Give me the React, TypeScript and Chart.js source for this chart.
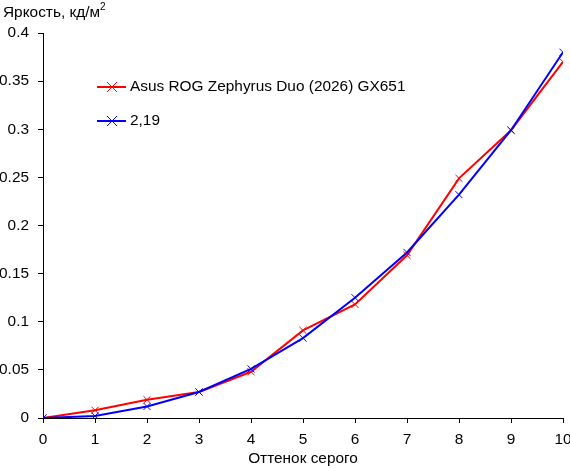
import React, { useEffect, useRef } from "react";
import { Chart, registerables } from "chart.js";

Chart.register(...registerables);

const grayLevels = [0, 1, 2, 3, 4, 5, 6, 7, 8, 9, 10];
const measured = [0, 0.008, 0.019, 0.027, 0.048, 0.091, 0.118, 0.169, 0.249, 0.299, 0.37];
const gamma219 = [0, 0.002, 0.012, 0.027, 0.051, 0.083, 0.125, 0.172, 0.232, 0.299, 0.38];
const yTicks = [0, 0.05, 0.1, 0.15, 0.2, 0.25, 0.3, 0.35, 0.4];

const seriesNames = ["Asus ROG Zephyrus Duo (2026) GX651", "2,19"];
const seriesColors = ["#ff0000", "#0000ff"];

const FONT = "'Liberation Sans', Arial, sans-serif";
const FS = 15.4;

const legendPlugin = {
  id: "innerLegend",
  afterDatasetsDraw(chart: any) {
    const ctx = chart.ctx;
    const area = chart.chartArea;
    ctx.save();
    ctx.font = `${FS}px ${FONT}`;
    ctx.textBaseline = "middle";
    seriesNames.forEach((name, i) => {
      const y = area.top + 54 + i * 34;
      const x0 = area.left + 54;
      ctx.strokeStyle = seriesColors[i];
      ctx.lineWidth = 2;
      ctx.beginPath();
      ctx.moveTo(x0, y);
      ctx.lineTo(x0 + 29, y);
      ctx.stroke();
      ctx.lineWidth = 1;
      ctx.beginPath();
      ctx.moveTo(x0 + 10, y - 5);
      ctx.lineTo(x0 + 20, y + 5);
      ctx.moveTo(x0 + 20, y - 5);
      ctx.lineTo(x0 + 10, y + 5);
      ctx.stroke();
      ctx.fillStyle = "#000";
      ctx.fillText(name, x0 + 33, y);
    });
    ctx.restore();
  },
};

const titlePlugin = {
  id: "yTitle",
  afterDraw(chart: any) {
    const ctx = chart.ctx;
    ctx.save();
    ctx.fillStyle = "#000";
    ctx.font = `${FS}px ${FONT}`;
    ctx.textBaseline = "alphabetic";
    const t = "Яркость, кд/м";
    ctx.fillText(t, 3, 17);
    const w = ctx.measureText(t).width;
    ctx.font = `10px ${FONT}`;
    ctx.fillText("2", 3 + w, 10);
    ctx.restore();
  },
};

export default function App() {
  const ref = useRef<HTMLCanvasElement>(null);
  useEffect(() => {
    document.body.style.margin = "0";
    const chart = new Chart(ref.current!, {
      type: "line",
      data: {
        datasets: [
          {
            label: seriesNames[0],
            data: grayLevels.map((x, i) => ({ x, y: measured[i] })),
            borderColor: seriesColors[0],
            backgroundColor: seriesColors[0],
            borderWidth: 2,
            pointStyle: "crossRot",
            pointRadius: 5,
            pointBorderWidth: 1,
            tension: 0,
            order: 1,
          },
          {
            label: seriesNames[1],
            data: grayLevels.map((x, i) => ({ x, y: gamma219[i] })),
            borderColor: seriesColors[1],
            backgroundColor: seriesColors[1],
            borderWidth: 2,
            pointStyle: "crossRot",
            pointRadius: 5,
            pointBorderWidth: 1,
            tension: 0,
            order: 0,
          },
        ],
      },
      options: {
        animation: false,
        responsive: false,
        devicePixelRatio: 1,
        layout: { padding: { top: 33, right: 7, left: 0, bottom: 0 } },
        plugins: { legend: { display: false }, tooltip: { enabled: false } },
        scales: {
          x: {
            type: "linear",
            min: 0,
            max: 10,
            ticks: {
              stepSize: 1,
              color: "#000",
              font: { family: FONT, size: FS },
              padding: 8,
              maxRotation: 0,
            },
            grid: { drawOnChartArea: false, tickLength: 5, color: "#000" },
            border: { color: "#000", width: 1 },
            title: {
              display: true,
              text: "Оттенок серого",
              color: "#000",
              font: { family: FONT, size: FS },
              padding: { top: 0, bottom: 0 },
            },
            afterFit(scale: any) {
              scale.height = 50;
              scale.paddingLeft = 0;
              scale.paddingRight = 0;
            },
          },
          y: {
            min: 0,
            max: 0.4,
            afterBuildTicks(scale: any) {
              scale.ticks = yTicks.map((v) => ({ value: v }));
            },
            ticks: {
              color: "#000",
              font: { family: FONT, size: FS },
              padding: 9,
              callback: (v: any) => String(parseFloat(Number(v).toFixed(2))),
            },
            grid: { drawOnChartArea: false, tickLength: 5, color: "#000" },
            border: { color: "#000", width: 1 },
            afterFit(scale: any) {
              scale.width = 43;
              scale.paddingTop = 0;
              scale.paddingBottom = 0;
            },
          },
        },
      },
      plugins: [legendPlugin, titlePlugin],
    });
    return () => chart.destroy();
  }, []);
  return (
    <div style={{ width: 570, height: 468 }}>
      <canvas ref={ref} width={570} height={468} style={{ width: 570, height: 468 }} />
    </div>
  );
}
